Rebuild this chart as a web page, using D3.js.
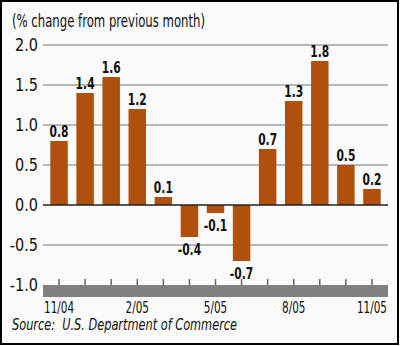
<!DOCTYPE html>
<html>
<head>
<meta charset="utf-8">
<script src="https://cdn.jsdelivr.net/npm/d3@7"></script>
<style>
  body { margin:0; padding:0; background:#fff; }
  text { font-family: "DejaVu Sans", sans-serif; font-stretch: condensed; }
</style>
</head>
<body>
<div id="chart"></div>
<script>
// monthly % change, 11/04 .. 11/05
var months = ["11/04","12/04","1/05","2/05","3/05","4/05","5/05","6/05","7/05","8/05","9/05","10/05","11/05"];
var values = [0.8, 1.4, 1.6, 1.2, 0.1, -0.4, -0.1, -0.7, 0.7, 1.3, 1.8, 0.5, 0.2];
var yTicks = [2.0, 1.5, 1.0, 0.5, 0.0, -0.5, -1.0];
var xLabels = ["11/04", "2/05", "5/05", "8/05", "11/05"];

var W = 400, H = 346;
var plot = { left:43, right:388, top:45, bottom:285 };

var svg = d3.select("#chart").append("svg")
    .attr("width", W)
    .attr("height", H);

// squeeze text to look like the condensed face of the original
function squeeze(sel, factor) {
  sel.each(function(){
    var len = this.getComputedTextLength();
    d3.select(this)
      .attr("textLength", len * factor)
      .attr("lengthAdjust", "spacingAndGlyphs");
  });
}
function widthOf(sel) {
  return sel.node().getComputedTextLength();
}

// frame
svg.append("rect")
    .attr("x", 1).attr("y", 1)
    .attr("width", W - 3).attr("height", H - 3)
    .attr("fill", "#fbfbfb")
    .attr("stroke", "#000")
    .attr("stroke-width", 2);

var x = d3.scaleBand()
    .domain(months)
    .range([plot.left, plot.right])
    .paddingInner(0.33)
    .paddingOuter(0.28);

var y = d3.scaleLinear()
    .domain([-1, 2])
    .range([plot.bottom, plot.top]);

// title
var title = svg.append("text")
    .attr("x", 12)
    .attr("y", 27)
    .attr("font-size", "18px")
    .attr("fill", "#111")
    .text("(% change from previous month)");
squeeze(title, 193 / widthOf(title));

// gridlines
svg.append("g").selectAll("line")
    .data(yTicks.filter(function(d){ return d != 0 && d != -1; }))
    .enter().append("line")
      .attr("x1", plot.left)
      .attr("x2", plot.right)
      .attr("y1", function(d){ return y(d); })
      .attr("y2", function(d){ return y(d); })
      .attr("stroke", "#a0a0a0")
      .attr("stroke-width", 1.5);

// y tick labels
var yLab = svg.append("g").selectAll("text")
    .data(yTicks)
    .enter().append("text")
      .attr("x", 38)
      .attr("y", function(d){ return y(d); })
      .attr("dy", "0.36em")
      .attr("text-anchor", "end")
      .attr("font-size", "17px")
      .attr("fill", "#111")
      .text(function(d){ return d.toFixed(1); });
squeeze(yLab, 23 / widthOf(yLab));

// bars
svg.append("g").selectAll("rect")
    .data(values)
    .enter().append("rect")
      .attr("x", function(d, i){ return x(months[i]); })
      .attr("width", x.bandwidth())
      .attr("y", function(d){ return y(Math.max(0, d)); })
      .attr("height", function(d){ return Math.abs(y(d) - y(0)); })
      .attr("fill", "#b0500e");

// zero line
svg.append("line")
    .attr("x1", plot.left).attr("x2", plot.right)
    .attr("y1", y(0)).attr("y2", y(0))
    .attr("stroke", "#222")
    .attr("stroke-width", 1.5);

// value labels
var vLab = svg.append("g").selectAll("text")
    .data(values)
    .enter().append("text")
      .attr("x", function(d, i){ return x(months[i]) + x.bandwidth() / 2; })
      .attr("y", function(d){ return d >= 0 ? y(d) - 4 : y(d) + 18; })
      .attr("text-anchor", "middle")
      .attr("font-size", "15px")
      .attr("font-weight", "bold")
      .attr("fill", "#111")
      .text(function(d){ return d.toFixed(1); });
squeeze(vLab, 19 / widthOf(vLab));

// gray axis band at -1.0
svg.append("rect")
    .attr("x", plot.left)
    .attr("y", y(-1))
    .attr("width", plot.right - plot.left)
    .attr("height", 12)
    .attr("fill", "#808080");

// ticks above band
svg.append("g").selectAll("line")
    .data(months)
    .enter().append("line")
      .attr("x1", function(d){ return x(d) + x.bandwidth() / 2; })
      .attr("x2", function(d){ return x(d) + x.bandwidth() / 2; })
      .attr("y1", y(-1) - 6)
      .attr("y2", y(-1))
      .attr("stroke", "#666")
      .attr("stroke-width", 1.5);

// x labels
var xLab = svg.append("g").selectAll("text")
    .data(xLabels)
    .enter().append("text")
      .attr("x", function(d){ return x(d) + x.bandwidth() / 2; })
      .attr("y", 313)
      .attr("text-anchor", "middle")
      .attr("font-size", "15px")
      .attr("fill", "#111")
      .text(function(d){ return d; });
squeeze(xLab, 30 / widthOf(xLab));

// source
var src = svg.append("text")
    .attr("x", 12)
    .attr("y", 330)
    .attr("font-size", "15px")
    .attr("font-style", "italic")
    .attr("fill", "#111")
    .attr("xml:space", "preserve")
    .text("Source:  U.S. Department of Commerce");
squeeze(src, 225 / widthOf(src));
</script>
</body>
</html>
